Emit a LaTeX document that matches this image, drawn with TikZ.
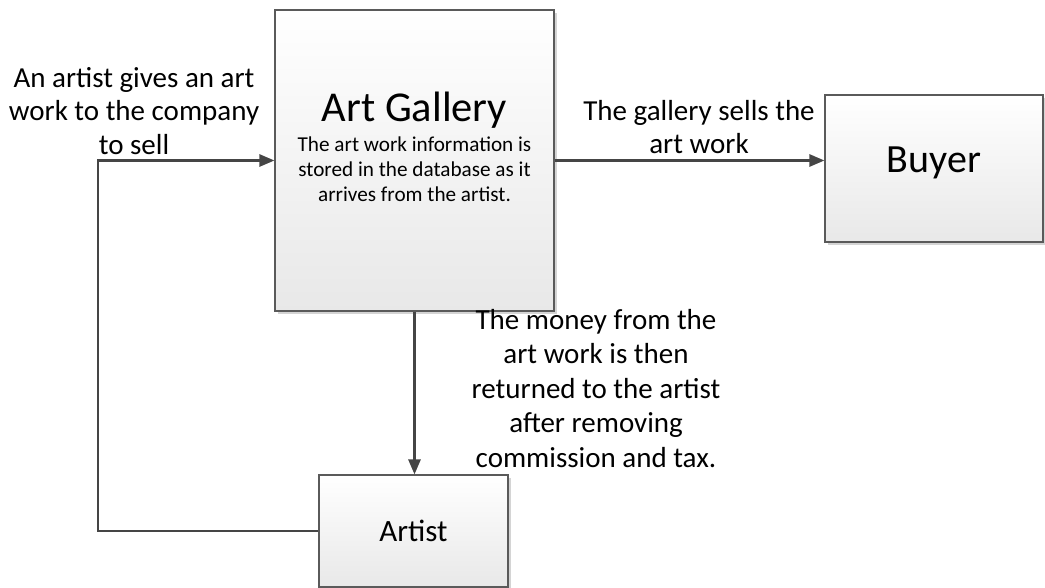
\documentclass[tikz,border=0pt]{standalone}
\usepackage{fontspec}
\setmainfont{Carlito}
\usetikzlibrary{arrows.meta,shadows}
\definecolor{linec}{HTML}{454545}
\definecolor{boxborder}{HTML}{5A5A5A}
\tikzset{
  box/.style={draw=boxborder, line width=1.1pt, rectangle, inner sep=0pt,
    top color=white, bottom color=black!9,
    general shadow={fill=black!17, shadow xshift=3pt, shadow yshift=-3pt}},
  conn/.style={draw=linec, line width=2.6pt, -{Triangle[length=15pt,width=12pt]}},
  lbl/.style={align=center, inner sep=0pt, font=\fontsize{29}{33.5}\selectfont}
}
\begin{document}
\begin{tikzpicture}[x=1pt,y=1pt]
\useasboundingbox (0,0) rectangle (1045,587);
% boxes
\node[box, minimum width=279pt, minimum height=301pt] (gallery) at (414.5,426.5) {};
\node[box, minimum width=218pt, minimum height=147pt, font=\fontsize{40}{48}\selectfont] (buyer) at (934,418.5) {\raisebox{-4.5pt}[0pt][0pt]{Buyer}};
\node[box, minimum width=189pt, minimum height=112pt, font=\fontsize{31}{37}\selectfont] (artist) at (413.5,56) {Artist};
% text inside gallery
\node[align=center, inner sep=0pt, anchor=north, font=\fontsize{21.2}{25}\selectfont] (gallerytext) at (414.5,495)
  {{\fontsize{42.5}{42.5}\selectfont Art Gallery}\\[5pt]The art work information is\\stored in the database as it\\arrives from the artist.};
% connectors
\coordinate (ret) at (98,0);
\draw[conn] (gallery.east) -- (gallery.east -| buyer.west);
\draw[conn] (gallery.south) -- (gallery.south |- artist.north);
\draw[conn] (artist.west) -| (ret |- gallery.west) -- (gallery.west);
% labels
\node[lbl, anchor=north] (lblgive) at (134,520) {An artist gives an art\\work to the company\\to sell};
\node[lbl, anchor=north] (lblsell) at (699,487) {The gallery sells the\\art work};
\node[lbl, anchor=north, font=\fontsize{29}{34.5}\selectfont] (lblmoney) at (596,278) {The money from the\\art work is then\\returned to the artist\\after removing\\commission and tax.};
\end{tikzpicture}
\end{document}
